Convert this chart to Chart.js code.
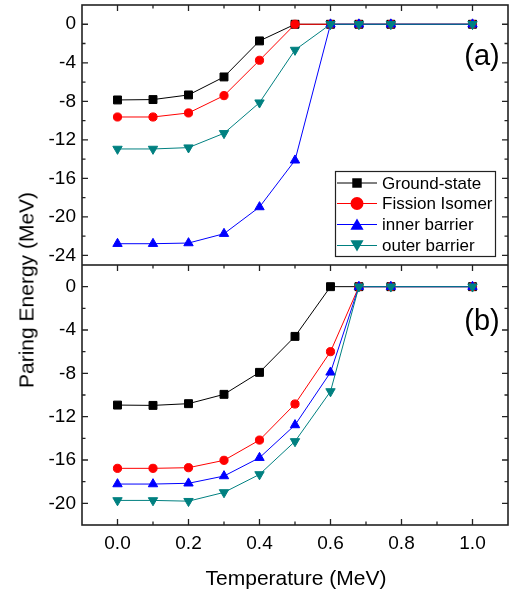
<!DOCTYPE html>
<html>
<head>
<meta charset="utf-8">
<script src="https://cdn.jsdelivr.net/npm/chart.js@4/dist/chart.umd.min.js"></script>
<style>
  html, body { margin: 0; padding: 0; background: #fff; }
  body { width: 516px; height: 592px; position: relative; overflow: hidden; font-family: "Liberation Sans", Arial, sans-serif; }
  canvas { position: absolute; left: 0; }
  .lbl { position: absolute; white-space: nowrap; color: #000; line-height: 1; transform: translate(-50%, -50%); }
</style>
</head>
<body>
<canvas id="ca" width="516" height="265" style="top:0"></canvas>
<canvas id="cb" width="516" height="327" style="top:265px"></canvas>
<div class="lbl" style="left:26px; top:290px; font-size:21px; transform: translate(-50%, -50%) rotate(-90deg);">Paring Energy (MeV)</div>
<div class="lbl" style="left:296px; top:577px; font-size:21px;">Temperature (MeV)</div>
<div class="lbl" style="left:482px; top:55px; font-size:29px;">(a)</div>
<div class="lbl" style="left:482px; top:320px; font-size:29px;">(b)</div>
<script>
// ---- data ----
const temps = [0, 0.1, 0.2, 0.3, 0.4, 0.5, 0.6, 0.68, 0.77, 1.0];

const groundA  = [-7.86, -7.82, -7.34, -5.47, -1.73, 0, 0, 0, 0, 0];
const fissionA = [-9.63, -9.63, -9.21, -7.41, -3.74, 0, 0, 0, 0, 0];
const innerA   = [-22.79, -22.79, -22.72, -21.75, -18.98, -14.13, 0, 0, 0, 0];
const outerA   = [-12.95, -12.95, -12.81, -11.32, -8.14, -2.67, 0, 0, 0, 0];

const groundB  = [-10.93, -10.96, -10.8, -9.94, -7.91, -4.59, 0, 0, 0, 0];
const fissionB = [-16.77, -16.77, -16.71, -16.03, -14.16, -10.83, -6.0, 0, 0, 0];
const innerB   = [-18.22, -18.22, -18.15, -17.48, -15.79, -12.77, -7.91, 0, 0, 0];
const outerB   = [-19.73, -19.73, -19.8, -18.99, -17.33, -14.28, -9.67, 0, 0, 0];

const seriesNames = ["Ground-state", "Fission Isomer", "inner barrier", "outer barrier"];

const xTicks = [0, 0.2, 0.4, 0.6, 0.8, 1.0];
const xMinorTicks = [0.1, 0.3, 0.5, 0.7, 0.9];
const yTicksA = [0, -4, -8, -12, -16, -20, -24];
const yMinorA = [-2, -6, -10, -14, -18, -22];
const yTicksB = [0, -4, -8, -12, -16, -20];
const yMinorB = [-2, -6, -10, -14, -18];

// ---- styles ----
const FONT = '"Liberation Sans", Arial, sans-serif';
Chart.defaults.font.family = FONT;
const styles = [
  { color: '#000000', pointStyle: 'rect', radius: 5.6, rotation: 0, lr: 6.7 },
  { color: '#ff0000', pointStyle: 'circle', radius: 4.1, rotation: 0, lr: 6.5 },
  { color: '#0000ff', pointStyle: 'triangle', radius: 5.4, rotation: 0, lr: 7.6 },
  { color: '#008080', pointStyle: 'triangle', radius: 5.4, rotation: 180, lr: 7.6 }
];

function makeDatasets(arrs) {
  return arrs.map((arr, i) => ({
    label: seriesNames[i],
    data: temps.map((t, k) => ({ x: t, y: arr[k] })),
    order: arrs.length - i,
    borderColor: styles[i].color,
    backgroundColor: styles[i].color,
    borderWidth: 1,
    pointStyle: styles[i].pointStyle,
    pointRadius: styles[i].radius,
    pointRotation: styles[i].rotation,
    pointBorderWidth: 1,
    tension: 0
  }));
}

function drawMarker(ctx, style, x, y, r, rot) {
  ctx.save();
  ctx.translate(x, y);
  ctx.rotate(rot * Math.PI / 180);
  ctx.beginPath();
  if (style === 'rect') {
    const s = r * Math.SQRT1_2;
    ctx.rect(-s, -s, 2 * s, 2 * s);
  } else if (style === 'circle') {
    ctx.arc(0, 0, r, 0, Math.PI * 2);
  } else {
    for (let k = 0; k < 3; k++) {
      const a = k * 2 * Math.PI / 3;
      const px = Math.sin(a) * r, py = -Math.cos(a) * r;
      if (k === 0) ctx.moveTo(px, py); else ctx.lineTo(px, py);
    }
    ctx.closePath();
  }
  ctx.fill();
  ctx.restore();
}

const framePlugin = {
  id: 'frame',
  afterDraw(chart, args, opts) {
    const { ctx, chartArea: a, scales } = chart;
    const x = scales.x, y = scales.y;
    ctx.save();
    ctx.strokeStyle = '#222';
    ctx.lineWidth = 1.6;
    ctx.strokeRect(a.left, a.top, a.right - a.left, a.bottom - a.top);
    ctx.lineWidth = 1.3;
    ctx.beginPath();
    const yt = (vals, len) => vals.forEach(v => {
      const py = y.getPixelForValue(v);
      ctx.moveTo(a.left, py); ctx.lineTo(a.left + len, py);
      ctx.moveTo(a.right, py); ctx.lineTo(a.right - len, py);
    });
    yt(opts.yMajor, 6); yt(opts.yMinor, 3.5);
    const xt = (vals, len) => vals.forEach(v => {
      const px = x.getPixelForValue(v);
      ctx.moveTo(px, a.top); ctx.lineTo(px, a.top + len);
      if (opts.bottomTicks) { ctx.moveTo(px, a.bottom); ctx.lineTo(px, a.bottom - len); }
    });
    xt(xTicks, 6); xt(xMinorTicks, 3.5);
    ctx.stroke();

    if (opts.legend) {
      ctx.lineWidth = 1.2;
      ctx.strokeRect(335.5, 171.5, 160, 85);
      const rows = [183, 203.5, 224.5, 245.5];
      ctx.font = '17px ' + FONT;
      ctx.textBaseline = 'middle';
      ctx.textAlign = 'left';
      styles.forEach((s, i) => {
        ctx.strokeStyle = s.color;
        ctx.lineWidth = 1;
        ctx.beginPath();
        ctx.moveTo(337, rows[i]); ctx.lineTo(377, rows[i]);
        ctx.stroke();
        ctx.fillStyle = s.color;
        drawMarker(ctx, s.pointStyle, 357, rows[i] + (s.pointStyle === 'triangle' ? (s.rotation ? -1.5 : 1.5) : 0), s.lr, s.rotation);
        ctx.fillStyle = '#000';
        ctx.fillText(seriesNames[i], 382, rows[i] + 1);
      });
    }
    ctx.restore();
  }
};

function noPad(scale) {
  scale.paddingTop = 0; scale.paddingBottom = 0;
  scale.paddingLeft = 0; scale.paddingRight = 0;
}

function makeChart(id, arrs, yMin, yMax, yMajor, yMinor, isBottom) {
  return new Chart(document.getElementById(id), {
    type: 'line',
    data: { datasets: makeDatasets(arrs) },
    plugins: [framePlugin],
    options: {
      responsive: false,
      animation: false,
      events: [],
      layout: { autoPadding: false, padding: { top: isBottom ? 0 : 5, right: 8, bottom: 0, left: 0 } },
      plugins: {
        legend: { display: false },
        tooltip: { enabled: false },
        frame: { yMajor: yMajor, yMinor: yMinor, bottomTicks: isBottom, legend: !isBottom }
      },
      scales: {
        x: {
          type: 'linear',
          min: -0.1, max: 1.1,
          display: isBottom,
          grid: { display: false, drawTicks: false },
          border: { display: false },
          afterBuildTicks: s => { s.ticks = xTicks.map(v => ({ value: v })); },
          afterFit: s => { s.height = isBottom ? 67 : 0; noPad(s); },
          ticks: {
            font: { size: 19 }, color: '#000', padding: 7, maxRotation: 0, autoSkip: false,
            callback: v => Number(v).toFixed(1)
          }
        },
        y: {
          type: 'linear',
          min: yMin, max: yMax,
          grid: { display: false, drawTicks: false },
          border: { display: false },
          afterBuildTicks: s => { s.ticks = yMajor.map(v => ({ value: v })); },
          afterFit: s => { s.width = 82; noPad(s); },
          ticks: { font: { size: 19 }, color: '#000', padding: 6, callback: v => String(v) }
        }
      }
    }
  });
}

makeChart('ca', [groundA, fissionA, innerA, outerA], -25, 2, yTicksA, yMinorA, false);
makeChart('cb', [groundB, fissionB, innerB, outerB], -22, 2, yTicksB, yMinorB, true);
</script>
</body>
</html>
